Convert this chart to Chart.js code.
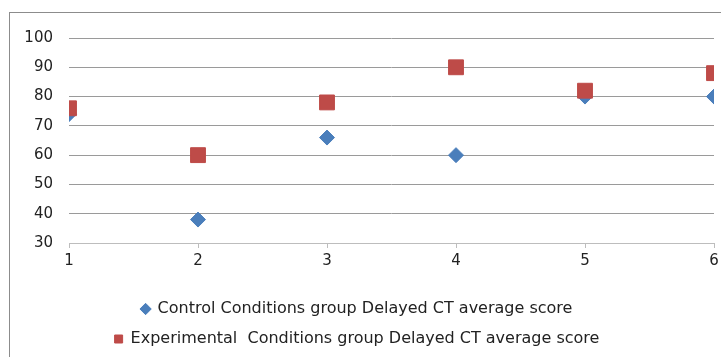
<!DOCTYPE html>
<html>
<head>
<meta charset="utf-8">
<script src="https://cdn.jsdelivr.net/npm/chart.js@4/dist/chart.umd.min.js"></script>
<style>
  html, body { margin: 0; padding: 0; background: #fff; }
  #wrap { position: relative; width: 721px; height: 357px; overflow: hidden; }
  #frame { position: absolute; left: 9px; top: 12px; width: 800px; height: 400px; border: 1px solid #8c8c8c; }
  canvas { position: absolute; left: 0; top: 0; }
</style>
</head>
<body>
<div id="wrap">
  <div id="frame"></div>
  <canvas id="scoreChart" width="721" height="357"></canvas>
</div>
<script>
const sessions = [1, 2, 3, 4, 5, 6];
const controlScores = [74, 38, 66, 60, 80, 80];
const experimentalScores = [76, 60, 78, 90, 82, 88];
const seriesNames = [
  "Control Conditions group Delayed CT average score",
  "Experimental  Conditions group Delayed CT average score"
];
const yTicks = [30, 40, 50, 60, 70, 80, 90, 100];

const toPoints = (vals) => sessions.map((s, i) => ({ x: s, y: vals[i] }));

const ctx = document.getElementById("scoreChart").getContext("2d");

new Chart(ctx, {
  type: "scatter",
  data: {
    datasets: [
      {
        label: seriesNames[0],
        data: toPoints(controlScores),
        pointStyle: "rectRot",
        pointRadius: 7.5,
        pointHoverRadius: 7.5,
        backgroundColor: "#4a7ebb",
        borderColor: "#4a7ebb",
        order: 1
      },
      {
        label: seriesNames[1],
        data: toPoints(experimentalScores),
        pointStyle: "rect",
        pointRadius: 10.5,
        pointHoverRadius: 10.5,
        backgroundColor: "#be4b48",
        borderColor: "#be4b48",
        order: 0
      }
    ]
  },
  options: {
    responsive: false,
    animation: false,
    layout: { autoPadding: false, padding: { left: 0, right: 7, top: 38, bottom: 0 } },
    plugins: {
      tooltip: { enabled: false },
      legend: {
        position: "bottom",
        labels: {
          usePointStyle: true,
          boxWidth: 8,
          boxHeight: 8,
          padding: 14,
          color: "#222",
          font: { family: "DejaVu Sans", size: 16 },
          sort: (a, b) => a.datasetIndex - b.datasetIndex
        }
      }
    },
    scales: {
      x: {
        type: "linear",
        min: 1,
        max: 6,
        ticks: {
          stepSize: 1,
          color: "#222",
          padding: 4,
          font: { family: "DejaVu Sans", size: 15 }
        },
        grid: {
          drawOnChartArea: false,
          drawTicks: true,
          tickLength: 5,
          color: "#bdbdbd"
        },
        border: { color: "#bdbdbd" },
        afterFit: (scale) => {
          scale.height = 44;
          scale.paddingRight = 0;
        }
      },
      y: {
        min: 30,
        max: 100,
        afterBuildTicks: (scale) => { scale.ticks = yTicks.map(v => ({ value: v })); },
        ticks: {
          color: "#222",
          padding: 16,
          font: { family: "DejaVu Sans", size: 15 }
        },
        grid: { color: "#9a9a9a", drawTicks: false },
        border: { display: false },
        afterFit: (scale) => { scale.width = 69; }
      }
    }
  }
});
</script>
</body>
</html>
